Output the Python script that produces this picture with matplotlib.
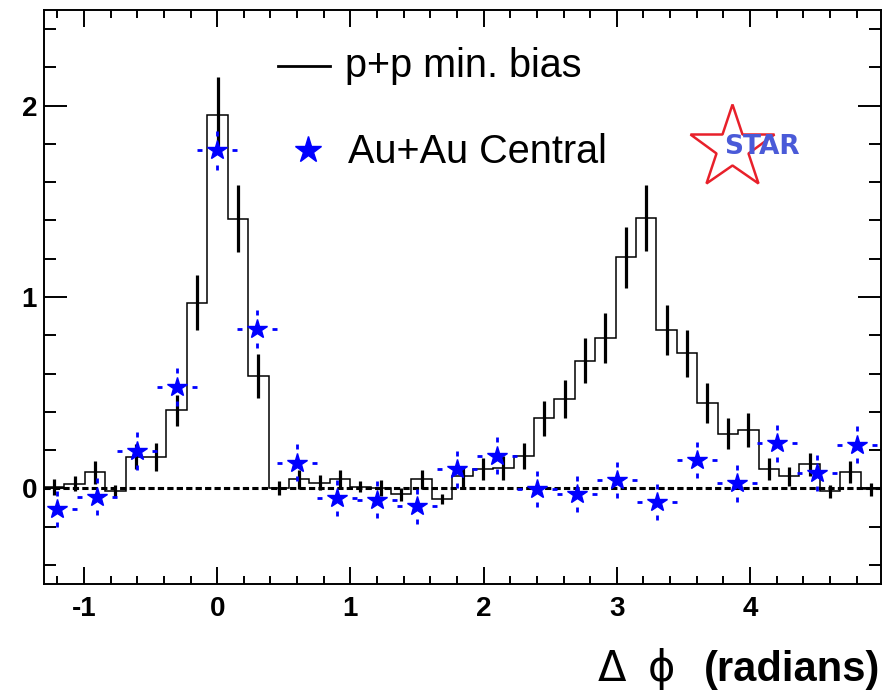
import numpy as np
import matplotlib
matplotlib.use('Agg')
import matplotlib.pyplot as plt
from matplotlib.lines import Line2D
from matplotlib.ticker import MultipleLocator

plt.rcParams['lines.scale_dashes'] = False
plt.rcParams['axes.unicode_minus'] = False
plt.rcParams['font.family'] = ['Liberation Sans', 'DejaVu Sans']

# ---------------- data ----------------
# p+p histogram: 41 bins spanning a 2*pi window starting at -1.3
pp_edges = np.linspace(-1.3, -1.3 + 2 * np.pi, 42)
pp_vals = [0.007, 0.024, 0.085, -0.014, 0.165, 0.165, 0.408, 0.970, 1.953, 1.410,
           0.589, 0.002, 0.047, 0.030, 0.047, 0.009, 0.003, -0.031, 0.047, -0.057,
           0.064, 0.102, 0.105, 0.168, 0.366, 0.468, 0.667, 0.787, 1.207, 1.413,
           0.828, 0.707, 0.446, 0.286, 0.305, 0.102, 0.064, 0.125, -0.015, 0.085,
           -0.005]
pp_err = [0.04, 0.04, 0.06, 0.03, 0.065, 0.073, 0.08, 0.145, 0.198, 0.173,
          0.115, 0.035, 0.05, 0.04, 0.05, 0.03, 0.043, 0.035, 0.05, 0.025,
          0.055, 0.057, 0.062, 0.068, 0.092, 0.1, 0.118, 0.13, 0.158, 0.174,
          0.13, 0.123, 0.103, 0.083, 0.087, 0.057, 0.05, 0.06, 0.033, 0.057,
          0.033]

# Au+Au central points
aa_x = [-1.2, -0.9, -0.6, -0.3, 0.0, 0.3, 0.6, 0.9, 1.2, 1.5, 1.8, 2.1,
        2.4, 2.7, 3.0, 3.3, 3.6, 3.9, 4.2, 4.5, 4.8]
aa_y = [-0.109, -0.043, 0.194, 0.53, 1.766, 0.833, 0.135, -0.052, -0.059, -0.094,
        0.099, 0.171, -0.004, -0.029, 0.045, -0.073, 0.148, 0.026, 0.235, 0.079,
        0.229]
aa_yerr = [0.095, 0.095, 0.1, 0.1, 0.1, 0.1, 0.096, 0.095, 0.095, 0.09, 0.095,
           0.095, 0.095, 0.095, 0.095, 0.095, 0.095, 0.095, 0.095, 0.095, 0.095]
aa_xerr = [0.15] * len(aa_x)

x_ticks = [-1, 0, 1, 2, 3, 4]
x_labels = ['-1', '0', '1', '2', '3', '4']
y_ticks = [0, 1, 2]
y_labels = ['0', '1', '2']

# ---------------- figure ----------------
W, H = 887, 692
fig = plt.figure(figsize=(W / 100, H / 100), dpi=100)
ax = fig.add_axes([44 / W, 108 / H, 837 / W, 574 / H])
ax.set_xlim(pp_edges[0], pp_edges[-1])
ax.set_ylim(-0.5, 2.5)

# zero line
ax.axhline(0, color='black', lw=2.2, linestyle=(0, (4.5, 2.3)), zorder=1)

# p+p histogram
pv = np.array(pp_vals)
pe = np.array(pp_err)
centers = 0.5 * (pp_edges[:-1] + pp_edges[1:])
ax.stairs(pv, pp_edges, baseline=None, color='black', lw=1.1, zorder=2)
ax.vlines(centers, pv - pe, pv + pe, colors='black', lw=2.3, zorder=3)

# Au+Au dashed error arms (drawn from outer end towards the point)
ax_ = np.array(aa_x)
ay = np.array(aa_y)
aye = np.array(aa_yerr)
axe = np.array(aa_xerr)
dash = [(0, (3.6, 300))]
kw = dict(colors='blue', lw=2.0, linestyles=dash, zorder=4)
ax.vlines(ax_, ay + aye, ay, **kw)
ax.vlines(ax_, ay - aye, ay, **kw)
ax.hlines(ay, ax_ + axe, ax_, **kw)
ax.hlines(ay, ax_ - axe, ax_, **kw)
ax.plot(ax_, ay, linestyle='none', marker='*', ms=15, color='blue',
        mec='blue', zorder=5)

# ticks
ax.set_xticks(x_ticks, x_labels, fontweight='bold')
ax.set_yticks(y_ticks, y_labels, fontweight='bold')
ax.xaxis.set_minor_locator(MultipleLocator(0.2))
ax.yaxis.set_minor_locator(MultipleLocator(0.2))
ax.tick_params(which='both', direction='in', top=True, right=True, width=1.4,
               color='black')
ax.tick_params(axis='x', which='major', length=12, pad=9, labelsize=20)
ax.tick_params(axis='x', which='minor', length=6)
ax.tick_params(axis='y', which='major', length=16.5, pad=5, labelsize=20)
ax.tick_params(axis='y', which='minor', length=8.6)
for s in ax.spines.values():
    s.set_linewidth(1.4)

# legend (manual, ROOT style)
fig.add_artist(Line2D([278 / W, 330 / W], [1 - 66 / H] * 2, color='black', lw=2))
fig.text(345 / W, 1 - 77 / H, 'p+p min. bias', fontsize=28.5, va='baseline')
fig.add_artist(Line2D([308 / W], [1 - 150 / H], marker='*', ms=20, color='blue',
                      linestyle='none'))
fig.text(348 / W, 1 - 163.3 / H, 'Au+Au Central', fontsize=28.5, va='baseline')

# STAR logo
fig.add_artist(Line2D([732 / W], [1 - 148 / H], marker='*', ms=63, mfc='none',
                      mec='#e8202a', mew=1.8, linestyle='none'))
fig.text(762 / W, 1 - 147 / H, 'STAR', color='#4a5ad8', fontsize=19,
         fontweight='bold', family='DejaVu Sans', ha='center', va='center')

# x axis title
fig.text(880 / W, 1 - 681 / H, '(radians)', fontsize=30, fontweight='bold',
         ha='right', va='baseline')
fig.text(598 / W, 1 - 681 / H, 'Δ', fontsize=30, family='DejaVu Sans',
         ha='left', va='baseline')
fig.text(661 / W, 1 - 681 / H, 'ϕ', fontsize=30, family='DejaVu Sans',
         ha='center', va='baseline')

fig.savefig('out.png', dpi=100)
